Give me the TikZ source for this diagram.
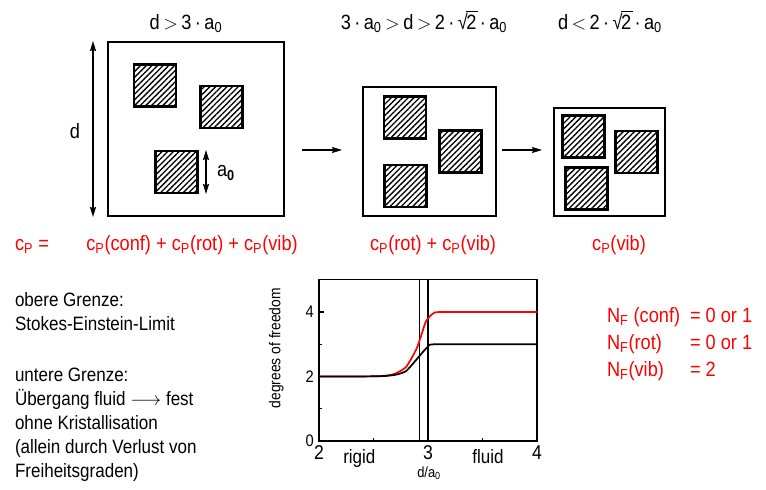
\documentclass[tikz,border=0pt]{standalone}
\usepackage{fontspec}
\setmainfont{Liberation Sans}[FakeStretch=0.88]
\usetikzlibrary{arrows.meta,patterns.meta}
\newcommand{\rtwo}{\mbox{√\kern-0.08em\rlap{\rule[0.80em]{0.56em}{0.055em}}2}}
\begin{document}
\begin{tikzpicture}[x=0.75pt,y=-0.75pt,
  every node/.style={inner sep=0pt,outer sep=0pt},
  txt/.style={font=\fontsize{14.5}{17}\selectfont},
  ttl/.style={font=\fontsize{15.5}{18}\selectfont},
  redtxt/.style={font=\fontsize{15.5}{18}\selectfont,text=red},
  bigbox/.style={draw,line width=1.5pt},
  sq/.style={draw,line width=2pt,minimum width=31.5pt,minimum height=31.5pt,
    pattern={Lines[angle=45,distance=3pt,line width=1pt]}},
  arr/.style={-{Stealth[length=7.5pt,width=4.5pt,inset=1pt]},line width=1pt},
  dim/.style={{Stealth[length=7.5pt,width=4.5pt,inset=1pt]}-{Stealth[length=7.5pt,width=4.5pt,inset=1pt]},line width=1.3pt},
  axis/.style={line width=0.9pt},
  ticklab/.style={font=\fontsize{12.5}{14}\selectfont},
  xlab/.style={font=\fontsize{15}{17}\selectfont}
]
\useasboundingbox[fill=white] (0,0) rectangle (766,489);

% titles
\node[ttl,anchor=base] (t1) at (186,29) {d\,$>$\,3\,·\,a\textsubscript{0}};
\node[ttl,anchor=base] (t2) at (424,29) {3\,·\,a\textsubscript{0}\,$>$\,d\,$>$\,2\,·\,\rtwo\,·\,a\textsubscript{0}};
\node[ttl,anchor=base] (t3) at (610,29) {d\,$<$\,2\,·\,\rtwo\,·\,a\textsubscript{0}};

% boxes
\node[bigbox,minimum width=132pt,minimum height=130.5pt] (b1) at (196,129) {};
\node[bigbox,minimum width=99.75pt,minimum height=96.75pt] (b2) at (429.5,151.5) {};
\node[bigbox,minimum width=83.25pt,minimum height=81pt] (b3) at (609.5,162) {};

% squares
\node[sq] (s11) at (155,85.5) {};
\node[sq] (s12) at (221.5,107) {};
\node[sq] (s13) at (176.5,172) {};
\node[sq] (s21) at (405,117.5) {};
\node[sq] (s22) at (460.5,151.5) {};
\node[sq] (s23) at (405.5,186) {};
\node[sq] (s31) at (583.5,136.5) {};
\node[sq] (s32) at (636.5,152) {};
\node[sq] (s33) at (586.5,188.5) {};

% dimension d
\coordinate (dt) at (93,41);
\coordinate (db) at (93,217);
\draw[dim] (dt) -- (db);
\node[ttl] (dl) at (75,131) {d};

% dimension a0
\coordinate (at) at (206,150);
\coordinate (ab) at (206,194);
\draw[dim,line width=1.1pt] (at) -- (ab);
\node[ttl,anchor=west] (al) at (217,173) {a\textsubscript{\textbf{0}}};

% arrows between states
\coordinate (a1s) at (302,150);
\coordinate (a1e) at (342,150);
\coordinate (a2s) at (502,150);
\coordinate (a2e) at (542,150);
\draw[arr] (a1s) -- (a1e);
\draw[arr] (a2s) -- (a2e);

% heat capacity labels
\node[redtxt,anchor=base west] (c0) at (15,250) {c\textsubscript{P} =};
\node[redtxt,anchor=base] (c1) at (192,250) {c\textsubscript{P}(conf) + c\textsubscript{P}(rot) + c\textsubscript{P}(vib)};
\node[redtxt,anchor=base] (c2) at (433,250) {c\textsubscript{P}(rot) + c\textsubscript{P}(vib)};
\node[redtxt,anchor=base] (c3) at (619,250) {c\textsubscript{P}(vib)};

% left text
\node[txt,anchor=base west] (l1) at (15,306) {obere Grenze:};
\node[txt,anchor=base west] (l2) at (15,330) {Stokes-Einstein-Limit};
\node[txt,anchor=base west] (l3) at (15,381) {untere Grenze:};
\node[txt,anchor=base west] (l4) at (15,405) {Übergang fluid $\longrightarrow$ fest};
\node[txt,anchor=base west] (l5) at (15,429) {ohne Kristallisation};
\node[txt,anchor=base west] (l6) at (15,453) {(allein durch Verlust von};
\node[txt,anchor=base west] (l7) at (15,477) {Freiheitsgraden)};

% degrees of freedom list
\node[redtxt,anchor=base west] (n1) at (607,322) {N\textsubscript{F} (conf)};
\node[redtxt,anchor=base west] (n2) at (607,349) {N\textsubscript{F}(rot)};
\node[redtxt,anchor=base west] (n3) at (607,376) {N\textsubscript{F}(vib)};
\node[redtxt,anchor=base west] (v1) at (690,322) {= 0 or 1};
\node[redtxt,anchor=base west] (v2) at (690,349) {= 0 or 1};
\node[redtxt,anchor=base west] (v3) at (690,376) {= 2};

% plot
\begin{scope}[shift={(319,441)},x=81.75pt,y=24.1875pt]
  \draw[axis] (0,0) rectangle (2,5);
  \foreach \v in {2,4} \draw[line width=0.8pt] (0,\v) -- ++(3.5pt,0);
  \foreach \v in {1,3} \draw[line width=0.8pt] (0,\v) -- ++(2.2pt,0);
  \foreach \u in {0.5,1.5} \draw[line width=0.8pt] (\u,0) -- ++(0,2.2pt);
  \draw[line width=0.8pt] (0.925,0) -- (0.925,5);
  \draw[line width=0.8pt] (1,0) -- (1,5);
  \draw[red,line width=1.3pt] plot[smooth,tension=0.35] coordinates
    {(0,2) (0.5,2.005) (0.62,2.03) (0.7,2.09) (0.8,2.3) (0.9,2.9) (0.98,3.7) (1.05,3.96) (1.14,4) (2,4)};
  \draw[black,line width=1.3pt] plot[smooth,tension=0.35] coordinates
    {(0,2) (0.5,2.005) (0.62,2.02) (0.71,2.06) (0.8,2.17) (0.9,2.55) (1.0,2.93) (1.08,3.0) (2,3)};
  \node[ticklab,anchor=east] (y0) at ([xshift=-4pt]0,0) {0};
  \node[ticklab,anchor=east] (y2) at ([xshift=-4pt]0,2) {2};
  \node[ticklab,anchor=east] (y4) at ([xshift=-4pt]0,4) {4};
  \node[xlab,anchor=base] (x2) at ([yshift=-14pt]0,0) {2};
  \node[xlab,anchor=base] (x3) at ([yshift=-14pt]1,0) {3};
  \node[xlab,anchor=base] (x4) at ([yshift=-14pt]2,0) {4};
  \node[txt,anchor=base] (rg) at ([yshift=-17pt]0.37,0) {rigid};
  \node[txt,anchor=base] (fl) at ([yshift=-17pt]1.55,0) {fluid};
  \node[font=\fontsize{11}{12}\selectfont,anchor=base] (xl) at ([yshift=-27pt]1.01,0) {d/a\textsubscript{0}};
  \node[font=\fontsize{11.8}{14}\selectfont,rotate=90] (yl) at ([xshift=-32pt]0,2.88) {degrees of freedom};
\end{scope}
\end{tikzpicture}
\end{document}
